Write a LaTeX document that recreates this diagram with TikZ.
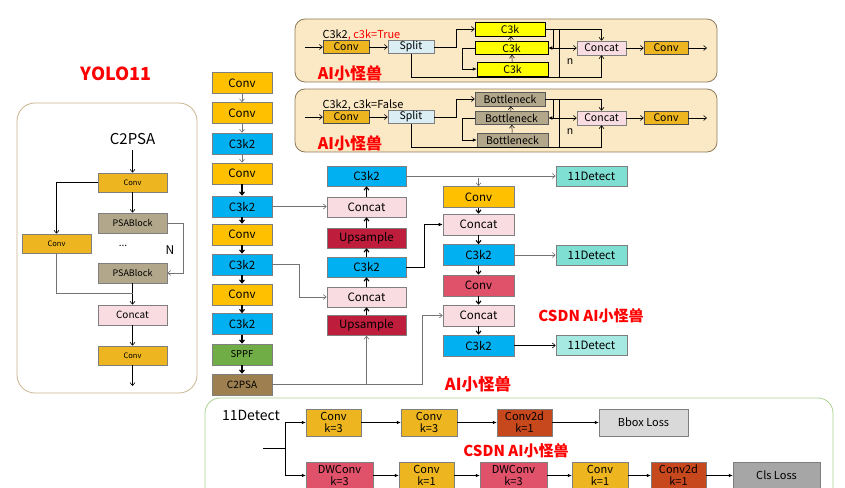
\documentclass[tikz,border=0pt]{standalone}
\usepackage{fontspec}
\setmainfont{Noto Sans CJK SC}
\usetikzlibrary{arrows.meta,positioning}
\definecolor{YoloConv}{HTML}{FFC000}
\definecolor{YoloBlue}{HTML}{00B0F0}
\definecolor{YoloGreen}{HTML}{70AD47}
\definecolor{YoloBrown}{HTML}{9E8050}
\definecolor{YoloPink}{HTML}{F8DCE1}
\definecolor{YoloCrimson}{HTML}{BE1E3C}
\definecolor{YoloRose}{HTML}{E0526A}
\definecolor{YoloTeal}{HTML}{7FDFD3}
\definecolor{YoloTealLight}{HTML}{A6E9E2}
\definecolor{YoloGold}{HTML}{EDB520}
\definecolor{YoloTan}{HTML}{B2A78A}
\definecolor{YoloRust}{HTML}{C8481E}
\definecolor{YoloCyan}{HTML}{DAEEF3}
\definecolor{YoloYellow}{HTML}{FFFF00}
\definecolor{YoloLine}{HTML}{7F7F7F}
\definecolor{YoloGrey}{HTML}{D9D9D9}
\definecolor{YoloGreyDark}{HTML}{A6A6A6}
\definecolor{PanelFill}{HTML}{FBE8C4}
\definecolor{PanelLine}{HTML}{8C7B5C}
\definecolor{PanelTan}{HTML}{C9B58D}
\definecolor{PanelGreen}{HTML}{A9D18E}
\definecolor{MarkRed}{HTML}{FF0000}

\begin{document}
\begin{tikzpicture}[x=1pt,y=-1pt,
    blk/.style={draw=YoloLine,line width=0.6pt,inner sep=0.5pt,
      minimum width=60pt,minimum height=21pt,font=\fontsize{11.5}{12}\selectfont},
    tiny/.style={blk,minimum width=69pt,minimum height=19pt,font=\fontsize{7.5}{8}\selectfont},
    mini/.style={draw=YoloLine,line width=0.5pt,inner sep=0.5pt,
      minimum height=13pt,font=\fontsize{10.5}{11}\selectfont},
    head/.style={draw=YoloLine,line width=0.5pt,inner sep=0.5pt,
      minimum height=27pt,align=center,font=\fontsize{11}{12}\selectfont},
    redmark/.style={text=MarkRed,font=\bfseries\fontsize{15}{16}\selectfont},
    arr/.style={-{Straight Barb[length=3pt,width=5pt]},line width=0.6pt},
    darr/.style={-{Straight Barb[length=3pt,width=5pt]},line width=1.1pt},
    farr/.style={-{Latex[length=4pt,width=3.5pt]},line width=0.6pt},
    grey/.style={draw=black!55}]
  \useasboundingbox (0,0) rectangle (845,487);
  \clip (0,0) rectangle (845,487);

  % panels
  \draw[PanelTan,line width=0.8pt,rounded corners=18pt,fill=white] (17,103) rectangle (197,393);
  \draw[PanelLine,line width=0.8pt,rounded corners=10pt,fill=PanelFill] (295,19) rectangle (717,82);
  \draw[PanelLine,line width=0.8pt,rounded corners=10pt,fill=PanelFill] (295,89) rectangle (717,152);
  \draw[PanelGreen,line width=0.8pt,rounded corners=15pt] (205,398) rectangle (833,540);

  \node[text=MarkRed,font=\bfseries\fontsize{18}{20}\selectfont] (title) at (116,74) {YOLO11};

  % C2PSA detail
  \node[font=\fontsize{15}{16}\selectfont] (pTitle) at (132.5,139) {C2PSA};
  \node[tiny,fill=YoloGold] (pConv1) at (132.5,182.5) {Conv};
  \node[tiny,fill=YoloTan,minimum height=20pt,font=\fontsize{9}{10}\selectfont] (pPsa1) at (132.5,223) {PSABlock};
  \node[font=\fontsize{10}{11}\selectfont] (pDots) at (123,246) {...};
  \node[font=\fontsize{12}{13}\selectfont] (pN) at (170,250) {N};
  \node[tiny,fill=YoloTan,minimum height=20pt,font=\fontsize{9}{10}\selectfont] (pPsa2) at (132.5,273) {PSABlock};
  \node[tiny,fill=YoloGold] (pConvL) at (56.5,243.5) {Conv};
  \node[tiny,fill=YoloPink,minimum height=20pt,font=\fontsize{10}{11}\selectfont] (pConcat) at (132.5,315) {Concat};
  \node[tiny,fill=YoloGold] (pConv2) at (132.5,355.5) {Conv};
  \coordinate (pIn) at (132.5,150);
  \coordinate (pOut) at (132.5,386);
  \coordinate (pJoin) at (132.5,293);
  \draw[arr] (pIn) -- (pConv1);
  \draw[arr] (pConv1) -- (pPsa1);
  \draw[arr] (pConv1.west) -| (pConvL.north);
  \draw[arr,grey] (pPsa1.east) -- ++(16,0) |- (pPsa2.east);
  \draw[arr] (pPsa2) -- (pConcat);
  \draw[line width=0.6pt,grey] (pConvL.south) |- (pJoin);
  \draw[arr] (pConcat) -- (pConv2);
  \draw[arr] (pConv2) -- (pOut);

  % backbone
  \node[blk,fill=YoloConv] (b1) at (242,83) {Conv};
  \node[blk,fill=YoloConv] (b2) at (242,113) {Conv};
  \node[blk,fill=YoloBlue] (b3) at (242,143.5) {C3k2};
  \node[blk,fill=YoloConv] (b4) at (242,173.5) {Conv};
  \node[blk,fill=YoloBlue] (b5) at (242,206.5) {C3k2};
  \node[blk,fill=YoloConv] (b6) at (242,234.5) {Conv};
  \node[blk,fill=YoloBlue] (b7) at (242,264.5) {C3k2};
  \node[blk,fill=YoloConv] (b8) at (242,294.5) {Conv};
  \node[blk,fill=YoloBlue] (b9) at (242,324) {C3k2};
  \node[blk,fill=YoloGreen,font=\fontsize{9.5}{10}\selectfont] (b10) at (242,354.5) {SPPF};
  \node[blk,fill=YoloBrown,font=\fontsize{10}{11}\selectfont] (b11) at (242,384.5) {C2PSA};
  \draw[arr,grey] (b1) -- (b2);
  \draw[arr,grey] (b2) -- (b3);
  \draw[arr,grey] (b3) -- (b4);
  \draw[darr] (b4) -- (b5);
  \draw[darr] (b5) -- (b6);
  \draw[darr] (b6) -- (b7);
  \draw[darr] (b7) -- (b8);
  \draw[darr] (b8) -- (b9);
  \draw[darr] (b9) -- (b10);
  \draw[darr] (b10) -- (b11);

  % neck, upward path
  \node[blk,fill=YoloBlue,minimum width=79pt,minimum height=20pt] (n1) at (366.5,176) {C3k2};
  \node[blk,fill=YoloPink,minimum width=79pt,minimum height=20pt] (n2) at (366.5,207) {Concat};
  \node[blk,fill=YoloCrimson,minimum width=79pt,minimum height=20pt] (n3) at (366.5,238) {Upsample};
  \node[blk,fill=YoloBlue,minimum width=79pt,minimum height=20pt] (n4) at (366.5,267) {C3k2};
  \node[blk,fill=YoloPink,minimum width=79pt,minimum height=20pt] (n5) at (366.5,297) {Concat};
  \node[blk,fill=YoloCrimson,minimum width=79pt,minimum height=20pt] (n6) at (366.5,325.5) {Upsample};
  \draw[darr] (n6) -- (n5);
  \draw[darr] (n5) -- (n4);
  \draw[darr] (n4) -- (n3);
  \draw[darr] (n3) -- (n2);
  \draw[darr] (n2) -- (n1);
  \draw[arr,grey] (b5.east) -- (b5.east -| n2.west);
  \draw[arr,grey] (b7.east) -- ++(27,0) |- (n5.west);

  % neck, downward path
  \node[blk,fill=YoloConv,minimum width=71pt] (r1) at (478.5,197) {Conv};
  \node[blk,fill=YoloPink,minimum width=71pt] (r2) at (478.5,224.5) {Concat};
  \node[blk,fill=YoloBlue,minimum width=71pt] (r3) at (478.5,255) {C3k2};
  \node[blk,fill=YoloRose,minimum width=71pt] (r4) at (478.5,285.5) {Conv};
  \node[blk,fill=YoloPink,minimum width=71pt] (r5) at (478.5,315.5) {Concat};
  \node[blk,fill=YoloBlue,minimum width=71pt] (r6) at (478.5,345.5) {C3k2};
  \draw[darr] (r1) -- (r2);
  \draw[darr] (r2) -- (r3);
  \draw[darr] (r3) -- (r4);
  \draw[darr] (r4) -- (r5);
  \draw[darr] (r5) -- (r6);
  \draw[farr] (n4.east) -- ++(18,0) |- (r2.west);
  \draw[arr,grey] (b11.east) -| (n6.south);
  \draw[arr,grey] (b11.east) -- ++(150,0) |- (r5.west);

  % heads
  \node[blk,fill=YoloTeal,minimum width=71pt,minimum height=20pt] (d1) at (591.5,176) {11Detect};
  \node[blk,fill=YoloTeal,minimum width=71pt,minimum height=20pt] (d2) at (591.5,255) {11Detect};
  \node[blk,fill=YoloTealLight,minimum width=71pt,minimum height=20pt] (d3) at (591.5,345.5) {11Detect};
  \draw[arr,grey] (n1.east) -- (d1.west);
  \draw[arr,grey] ([yshift=-2pt]r1.north |- n1.east) -- (r1.north);
  \draw[arr,grey] (r3.east) -- (d2.west);
  \draw[arr] (r6.east) -- (d3.west);

  \node[redmark] (markA) at (591,316) {CSDN AI小怪兽};
  \node[redmark,font=\bfseries\fontsize{16.5}{17}\selectfont] (markB) at (478,384) {AI小怪兽};

  % C3k2 with c3k=True
  \node[anchor=west,font=\fontsize{11}{12}\selectfont] (t1Label) at (319,35) {C3k2\textcolor{MarkRed}{, c3k=True}};
  \node[mini,fill=YoloGold,draw=black!70,minimum width=46pt] (t1Conv) at (346,47) {Conv};
  \node[mini,fill=YoloCyan,minimum width=46pt] (t1Split) at (411,47) {Split};
  \node[mini,fill=YoloYellow,draw=black,minimum width=70pt,minimum height=14pt] (t1K1) at (510,29) {C3k};
  \node[mini,fill=YoloYellow,draw=black,minimum width=73pt,minimum height=13pt] (t1K2) at (511.5,48) {C3k};
  \node[mini,fill=YoloYellow,draw=black,minimum width=71pt,minimum height=14pt] (t1K3) at (512.5,69) {C3k};
  \node[mini,fill=YoloPink,minimum width=49pt,minimum height=14pt] (t1Concat) at (601.5,48) {Concat};
  \node[mini,fill=YoloGold,draw=black!70,minimum width=44pt] (t1Conv2) at (666,48) {Conv};
  \node[font=\fontsize{10.5}{11}\selectfont] (t1N) at (570,62) {n};
  \node[redmark,font=\bfseries\fontsize{16}{17}\selectfont] (t1Mark) at (350,73) {AI小怪兽};
  \coordinate (t1In) at (305,47);
  \coordinate (t1Out) at (707,48);
  \coordinate (t1Tap) at ([xshift=8pt]t1K1.east);
  \coordinate (t1Bar) at ([xshift=14pt]t1K1.east);
  \draw[arr] (t1In) -- (t1Conv);
  \draw[arr] (t1Conv) -- (t1Split);
  \draw[arr] (t1Split.east) -- ++(22,0) |- (t1K1.west);
  \draw[arr,line width=0.5pt] (t1K3) -- (t1K2);
  \draw[arr,line width=0.5pt] (t1K2) -- (t1K1);
  \draw[farr] (t1K2.west) -- ++(-12,0) |- (t1K3.west);
  \draw[arr] (t1K1.east) -| (t1Concat.north);
  \draw[farr] (t1Tap) |- (t1K2.east);
  \draw[line width=0.6pt] (t1Bar) -- ++(0,48);
  \draw[arr] (t1Tap |- t1K2.east) -- (t1Concat.west);
  \draw[arr] (t1Split.south) -- ++(0,24) -| (t1Concat.south);
  \draw[arr] (t1Concat) -- (t1Conv2);
  \draw[arr] (t1Conv2) -- (t1Out);

  % C3k2 with c3k=False
  \node[anchor=west,font=\fontsize{11}{12}\selectfont] (t2Label) at (319,105) {C3k2, c3k=False};
  \node[mini,fill=YoloGold,draw=black!70,minimum width=46pt] (t2Conv) at (346,117) {Conv};
  \node[mini,fill=YoloCyan,minimum width=46pt] (t2Split) at (411,117) {Split};
  \node[mini,fill=YoloTan,draw=black!65,minimum width=70pt,minimum height=14pt] (t2B1) at (510,99) {Bottleneck};
  \node[mini,fill=YoloTan,draw=black!65,minimum width=73pt,minimum height=13pt] (t2B2) at (511.5,118) {Bottleneck};
  \node[mini,fill=YoloTan,draw=black!65,minimum width=71pt,minimum height=14pt] (t2B3) at (512.5,140) {Bottleneck};
  \node[mini,fill=YoloPink,minimum width=49pt,minimum height=14pt] (t2Concat) at (601.5,118) {Concat};
  \node[mini,fill=YoloGold,draw=black!70,minimum width=44pt] (t2Conv2) at (666,118) {Conv};
  \node[font=\fontsize{10.5}{11}\selectfont] (t2N) at (570,132) {n};
  \node[redmark,font=\bfseries\fontsize{16}{17}\selectfont] (t2Mark) at (350,143) {AI小怪兽};
  \coordinate (t2In) at (305,117);
  \coordinate (t2Out) at (707,118);
  \coordinate (t2Tap) at ([xshift=8pt]t2B1.east);
  \coordinate (t2Bar) at ([xshift=14pt]t2B1.east);
  \draw[arr] (t2In) -- (t2Conv);
  \draw[arr] (t2Conv) -- (t2Split);
  \draw[arr] (t2Split.east) -- ++(22,0) |- (t2B1.west);
  \draw[arr,line width=0.5pt] (t2B3) -- (t2B2);
  \draw[arr,line width=0.5pt] (t2B2) -- (t2B1);
  \draw[farr] (t2B2.west) -- ++(-12,0) |- (t2B3.west);
  \draw[arr] (t2B1.east) -| (t2Concat.north);
  \draw[farr] (t2Tap) |- (t2B2.east);
  \draw[line width=0.6pt] (t2Bar) -- ++(0,48);
  \draw[arr] (t2Tap |- t2B2.east) -- (t2Concat.west);
  \draw[arr] (t2Split.south) -- ++(0,24) -| (t2Concat.south);
  \draw[arr] (t2Concat) -- (t2Conv2);
  \draw[arr] (t2Conv2) -- (t2Out);

  % detect head
  \node[font=\fontsize{14}{15}\selectfont] (hTitle) at (251,415) {11Detect};
  \coordinate (hIn) at (263,448);
  \coordinate (hSplit) at (285,448);
  \node[head,fill=YoloGold,minimum width=55pt] (hConv1) at (333.5,422.5) {Conv\\k=3};
  \node[head,fill=YoloGold,minimum width=56pt] (hConv2) at (429,422.5) {Conv\\k=3};
  \node[head,fill=YoloRust,minimum width=55pt] (hC2d1) at (524.5,422.5) {Conv2d\\k=1};
  \node[head,fill=YoloGrey,minimum width=89pt] (hBbox) at (643.5,422.5) {Bbox Loss};
  \node[head,fill=YoloRose,minimum width=67pt] (hDw1) at (339.5,475.5) {DWConv\\k=3};
  \node[head,fill=YoloGold,minimum width=55pt] (hConv3) at (426.5,475.5) {Conv\\k=1};
  \node[head,fill=YoloRose,minimum width=67pt] (hDw2) at (513.5,475.5) {DWConv\\k=3};
  \node[head,fill=YoloGold,minimum width=56pt] (hConv4) at (600,475.5) {Conv\\k=1};
  \node[head,fill=YoloRust,minimum width=55pt] (hC2d2) at (678.5,475.5) {Conv2d\\k=1};
  \node[head,fill=YoloGreyDark,minimum width=87pt] (hCls) at (776.5,475.5) {Cls Loss};
  \draw[line width=0.6pt] (hIn) -- (hSplit);
  \draw[farr] (hSplit) |- (hConv1.west);
  \draw[farr] (hSplit) |- (hDw1.west);
  \draw[farr] (hConv1) -- (hConv2);
  \draw[farr] (hConv2) -- (hC2d1);
  \draw[farr] (hC2d1) -- (hBbox);
  \draw[farr] (hDw1) -- (hConv3);
  \draw[farr] (hConv3) -- (hDw2);
  \draw[farr] (hDw2) -- (hConv4);
  \draw[farr] (hConv4) -- (hC2d2);
  \draw[farr] (hC2d2) -- (hCls);
  \node[redmark] (markC) at (516,451) {CSDN AI小怪兽};
\end{tikzpicture}
\end{document}
